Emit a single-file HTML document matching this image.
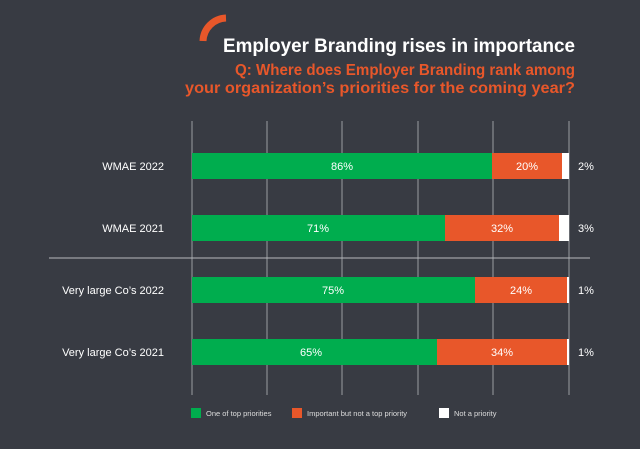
<!DOCTYPE html>
<html><head><style>
body{margin:0;width:640px;height:444px;background:#383b43;overflow:hidden;font-family:"Liberation Sans",sans-serif;}
</style></head><body>
<svg width="640" height="444" viewBox="0 0 640 444" xmlns="http://www.w3.org/2000/svg" font-family="Liberation Sans, sans-serif">
<rect width="640" height="444" fill="#383b43"/>
<path d="M203 41 A24 24 0 0 1 226 18" stroke="#e8572a" stroke-width="7" fill="none"/>
<text x="575" y="52" text-anchor="end" fill="#fff" font-size="19" font-weight="bold" textLength="352" lengthAdjust="spacingAndGlyphs">Employer Branding rises in importance</text>
<text x="575" y="75" text-anchor="end" fill="#e8572a" font-size="15.5" font-weight="bold" textLength="340" lengthAdjust="spacingAndGlyphs">Q: Where does Employer Branding rank among</text>
<text x="575" y="93" text-anchor="end" fill="#e8572a" font-size="15.5" font-weight="bold" textLength="390" lengthAdjust="spacingAndGlyphs">your  organization’s priorities for the coming year?</text>
<g stroke="#9a9ca2" stroke-width="1">
<line x1="192" y1="121" x2="192" y2="395"/><line x1="267" y1="121" x2="267" y2="395"/><line x1="342" y1="121" x2="342" y2="395"/><line x1="418" y1="121" x2="418" y2="395"/><line x1="493" y1="121" x2="493" y2="395"/><line x1="569" y1="121" x2="569" y2="395"/>
<line x1="49" y1="258" x2="590" y2="258" stroke="#b8babe"/>
</g>
<g font-size="11" fill="#fff">
<rect x="192" y="153" width="300" height="26" fill="#00ad4e"/><rect x="492" y="153" width="70" height="26" fill="#e8572a"/><rect x="562" y="153" width="7" height="26" fill="#fff"/>
<rect x="192" y="215" width="253" height="26" fill="#00ad4e"/><rect x="445" y="215" width="114" height="26" fill="#e8572a"/><rect x="559" y="215" width="10" height="26" fill="#fff"/>
<rect x="192" y="277" width="283" height="26" fill="#00ad4e"/><rect x="475" y="277" width="92" height="26" fill="#e8572a"/><rect x="567" y="277" width="2" height="26" fill="#fff"/>
<rect x="192" y="339" width="245" height="26" fill="#00ad4e"/><rect x="437" y="339" width="130" height="26" fill="#e8572a"/><rect x="567" y="339" width="2" height="26" fill="#fff"/>
<text x="342" y="170" text-anchor="middle">86%</text><text x="527" y="170" text-anchor="middle">20%</text><text x="586" y="170" text-anchor="middle">2%</text>
<text x="318" y="232" text-anchor="middle">71%</text><text x="502" y="232" text-anchor="middle">32%</text><text x="586" y="232" text-anchor="middle">3%</text>
<text x="333" y="294" text-anchor="middle">75%</text><text x="521" y="294" text-anchor="middle">24%</text><text x="586" y="294" text-anchor="middle">1%</text>
<text x="311" y="356" text-anchor="middle">65%</text><text x="502" y="356" text-anchor="middle">34%</text><text x="586" y="356" text-anchor="middle">1%</text>
<text x="164" y="170" text-anchor="end">WMAE 2022</text>
<text x="164" y="232" text-anchor="end">WMAE 2021</text>
<text x="164" y="294" text-anchor="end">Very large Co’s 2022</text>
<text x="164" y="356" text-anchor="end">Very large Co’s 2021</text>
</g>
<g font-size="7.5" fill="#ddd">
<rect x="191" y="408" width="10" height="10" fill="#00ad4e"/><text x="206" y="416">One of top priorities</text>
<rect x="292" y="408" width="10" height="10" fill="#e8572a"/><text x="307" y="416">Important but not a top priority</text>
<rect x="439" y="408" width="10" height="10" fill="#fff"/><text x="454" y="416">Not a priority</text>
</g>
</svg>
</body></html>
